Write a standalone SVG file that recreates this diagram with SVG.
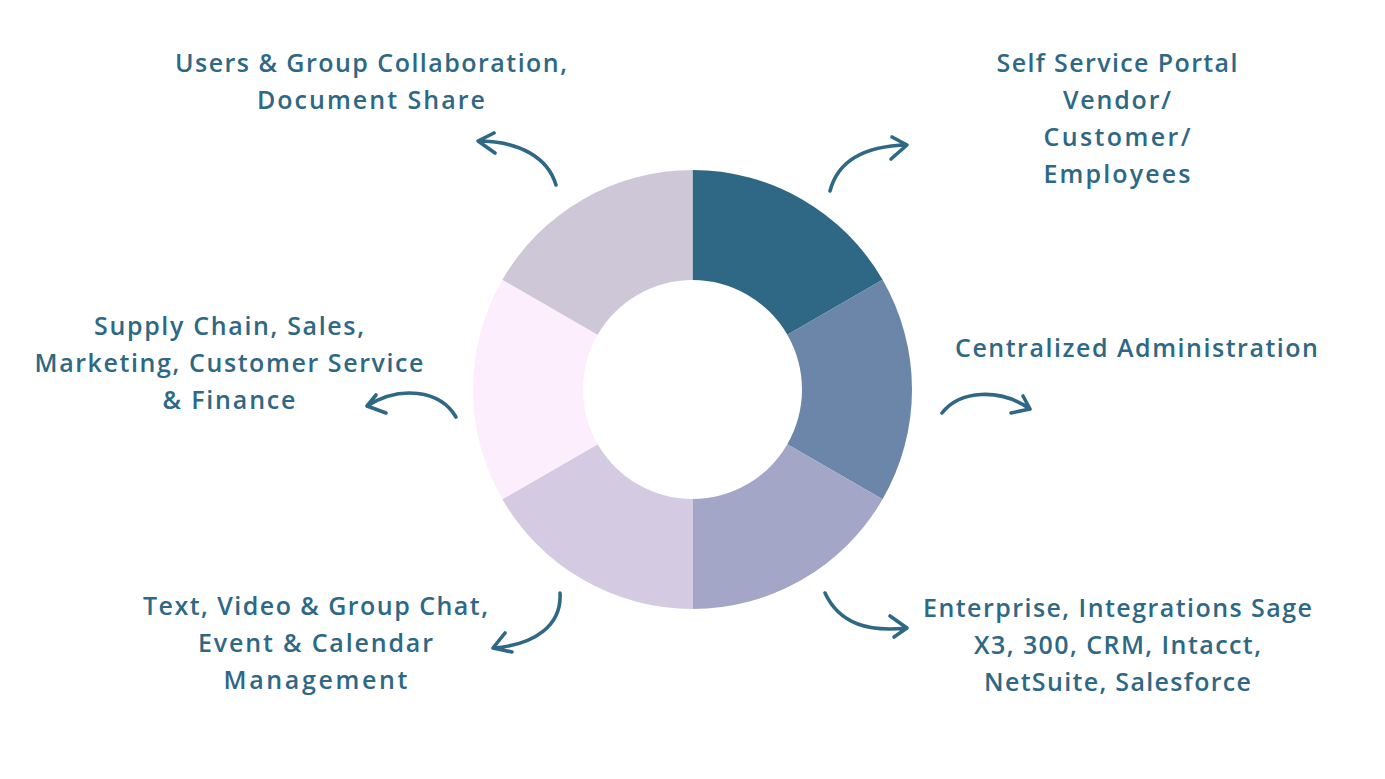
<svg xmlns="http://www.w3.org/2000/svg" width="1385" height="779" viewBox="0 0 1385 779">
<style>
.lbl{font-family:"Open Sans","Noto Sans","Liberation Sans",sans-serif;font-weight:600;font-size:25px;fill:#2e6884;text-anchor:middle}
.arr{fill:none;stroke:#2e6884;stroke-width:3.6;stroke-linecap:round;stroke-linejoin:round}
</style>
<rect width="1385" height="779" fill="#ffffff"/>
<g id="donut">
<path id="seg1" d="M692.5,170 A219.5,219.5 0 0 1 882.59,279.75 L787.33,334.75 A109.5,109.5 0 0 0 692.5,280 Z" fill="#2e6884"/>
<path id="seg2" d="M882.59,279.75 A219.5,219.5 0 0 1 882.59,499.25 L787.33,444.25 A109.5,109.5 0 0 0 787.33,334.75 Z" fill="#6b86a8"/>
<path id="seg3" d="M882.59,499.25 A219.5,219.5 0 0 1 692.5,609 L692.5,499 A109.5,109.5 0 0 0 787.33,444.25 Z" fill="#a3a6c6"/>
<path id="seg4" d="M692.5,609 A219.5,219.5 0 0 1 502.41,499.25 L597.67,444.25 A109.5,109.5 0 0 0 692.5,499 Z" fill="#d4cae2"/>
<path id="seg5" d="M502.41,499.25 A219.5,219.5 0 0 1 502.41,279.75 L597.67,334.75 A109.5,109.5 0 0 0 597.67,444.25 Z" fill="#fdeefd"/>
<path id="seg6" d="M502.41,279.75 A219.5,219.5 0 0 1 692.5,170 L692.5,280 A109.5,109.5 0 0 0 597.67,334.75 Z" fill="#cdc7d7"/>
</g>
<g id="connectors">
<path class="arr" d="M556,185 C548,158 520,141 478,141 M494,133 L478,141 L495,153"/>
<path class="arr" d="M830,191 C838,160 865,146 907,145 M892,137 L907,145 L891,159"/>
<path class="arr" d="M942,413 C960,390 1000,388 1030,409 M1023,396 L1030,409 L1011,413"/>
<path class="arr" d="M456,417 C440,390 400,385 367,406 M376,395 L367,406 L386,413"/>
<path class="arr" d="M560,593 C562,625 535,645 493,648 M505,633 L493,648 L512,652"/>
<path class="arr" d="M825,593 C840,625 870,632 907,628 M890,616 L907,628 L894,637"/>
</g>
<g id="node-users">
<text class="lbl" x="371" y="72" textLength="392">Users &amp; Group Collaboration,</text>
<text class="lbl" x="371" y="109" textLength="228">Document Share</text>
</g>
<g id="node-selfservice">
<text class="lbl" x="1117" y="72" textLength="241">Self Service Portal</text>
<text class="lbl" x="1117" y="109" textLength="108">Vendor/</text>
<text class="lbl" x="1117" y="146" textLength="147">Customer/</text>
<text class="lbl" x="1117" y="183" textLength="147">Employees</text>
</g>
<g id="node-supply">
<text class="lbl" x="229" y="335" textLength="270">Supply Chain, Sales,</text>
<text class="lbl" x="229" y="372" textLength="389">Marketing, Customer Service</text>
<text class="lbl" x="229" y="409" textLength="133">&amp; Finance</text>
</g>
<g id="node-central">
<text class="lbl" x="1136.5" y="357" textLength="363">Centralized Administration</text>
</g>
<g id="node-enterprise">
<text class="lbl" x="1117.5" y="617" textLength="389">Enterprise, Integrations Sage</text>
<text class="lbl" x="1117.5" y="654" textLength="287">X3, 300, CRM, Intacct,</text>
<text class="lbl" x="1117.5" y="691" textLength="267">NetSuite, Salesforce</text>
</g>
<g id="node-chat">
<text class="lbl" x="315.5" y="615" textLength="345">Text, Video &amp; Group Chat,</text>
<text class="lbl" x="315.5" y="652" textLength="235">Event &amp; Calendar</text>
<text class="lbl" x="315.5" y="689" textLength="184">Management</text>
</g>
</svg>
